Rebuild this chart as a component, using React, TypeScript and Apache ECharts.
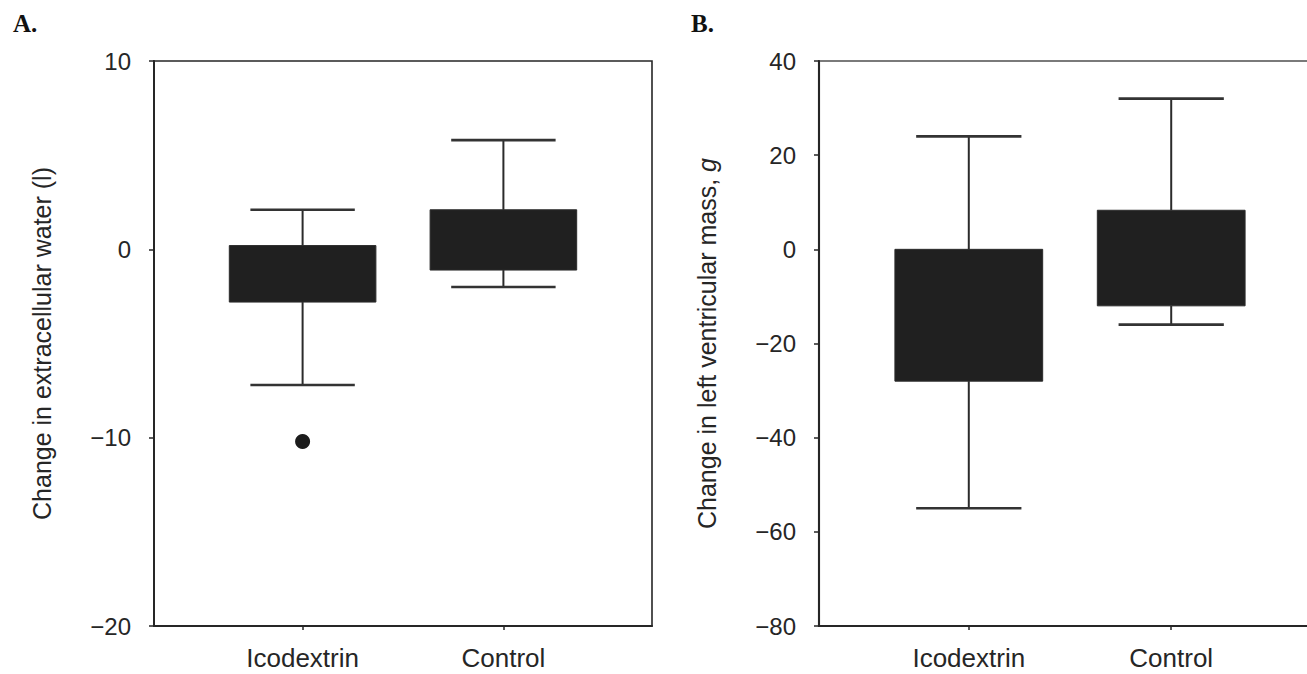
import React, { useEffect, useRef } from "react";
import * as echarts from "echarts";

// Groups shown on both panels
const categories = ["Icodextrin", "Control"];

// Panel A: change in extracellular water (l)
const ecwLow = [-7.2, -2.0];
const ecwQ1 = [-2.8, -1.1];
const ecwQ3 = [0.2, 2.1];
const ecwHigh = [2.1, 5.8];
const ecwOutlierGroup = ["Icodextrin"];
const ecwOutlierValue = [-10.2];
const ecwTicks = [-20, -10, 0, 10];

// Panel B: change in left ventricular mass, g
const lvmLow = [-55, -16];
const lvmQ1 = [-28, -12];
const lvmQ3 = [0, 8.3];
const lvmHigh = [24, 32];
const lvmTicks = [-80, -60, -40, -20, 0, 20, 40];

const BOX_WIDTH = 0.73;
const CAP_WIDTH = 0.52;
const INK = "#262626";
const SANS = "'Liberation Sans', Arial, sans-serif";

const boxData = (lo: number[], q1: number[], q3: number[], hi: number[]) =>
  categories.map((_, i) => [i, lo[i], q1[i], q3[i], hi[i]]);

function renderBox(_params: any, api: any) {
  const i = api.value(0);
  const pLow = api.coord([i, api.value(1)]);
  const pQ1 = api.coord([i, api.value(2)]);
  const pQ3 = api.coord([i, api.value(3)]);
  const pHigh = api.coord([i, api.value(4)]);
  const boxW = api.size([BOX_WIDTH, 0])[0];
  const capW = api.size([CAP_WIDTH, 0])[0];
  const cx = pQ1[0];
  const whisker = { stroke: "#2b2b2b", lineWidth: 2 };
  const cap = { stroke: "#333", lineWidth: 2.6 };
  return {
    type: "group",
    children: [
      { type: "line", shape: { x1: cx, y1: pQ3[1], x2: cx, y2: pHigh[1] }, style: whisker },
      { type: "line", shape: { x1: cx, y1: pQ1[1], x2: cx, y2: pLow[1] }, style: whisker },
      { type: "line", shape: { x1: cx - capW / 2, y1: pHigh[1], x2: cx + capW / 2, y2: pHigh[1] }, style: cap },
      { type: "line", shape: { x1: cx - capW / 2, y1: pLow[1], x2: cx + capW / 2, y2: pLow[1] }, style: cap },
      {
        type: "rect",
        shape: { x: cx - boxW / 2, y: pQ3[1], width: boxW, height: pQ1[1] - pQ3[1] },
        style: { fill: "#202020", stroke: "#2b2b2b", lineWidth: 1 },
      },
    ],
  };
}

const minus = (v: number) => String(v).replace("-", "\u2212");

function xAxis(gridIndex: number) {
  return {
    type: "value",
    gridIndex,
    min: -0.74,
    max: 1.74,
    axisLine: { show: true, onZero: false, lineStyle: { color: INK, width: 2 } },
    axisTick: { show: true, customValues: [0, 1], length: 4, lineStyle: { color: INK, width: 1.5 } },
    axisLabel: {
      customValues: [0, 1],
      formatter: (v: number) => categories[Math.round(v)] ?? "",
      margin: 19,
      fontSize: 26,
      fontFamily: SANS,
      color: INK,
    },
    splitLine: { show: false },
  };
}

function yAxis(gridIndex: number, ticks: number[], name: string, rich?: any) {
  return {
    type: "value",
    gridIndex,
    min: ticks[0],
    max: ticks[ticks.length - 1],
    interval: ticks[1] - ticks[0],
    name,
    nameLocation: "middle",
    nameGap: 100,
    nameTextStyle: { fontSize: 25, fontFamily: SANS, color: INK, rich },
    axisLine: { show: true, onZero: false, lineStyle: { color: INK, width: 2 } },
    axisTick: { show: true, length: 5, lineStyle: { color: INK, width: 1.5 } },
    axisLabel: { margin: 23, fontSize: 24, fontFamily: SANS, color: INK, formatter: minus },
    splitLine: { show: false },
  };
}

export default function App() {
  const ref = useRef<HTMLDivElement>(null);

  useEffect(() => {
    if (!ref.current) return;
    const chart = echarts.init(ref.current, undefined, { renderer: "svg" });
    const richB = {
      a: { fontSize: 25, fontFamily: SANS, color: INK },
      b: { fontSize: 25, fontFamily: SANS, color: INK, fontStyle: "italic" },
    };
    chart.setOption({
      animation: false,
      backgroundColor: "#ffffff",
      grid: [
        { left: 154, top: 61, width: 498, height: 565, show: true, borderColor: INK, borderWidth: 1.6 },
        { left: 819, top: 61, width: 502, height: 565, show: true, borderColor: "#7a7a7a", borderWidth: 2.2 },
      ],
      xAxis: [xAxis(0), xAxis(1)],
      yAxis: [
        yAxis(0, ecwTicks, "Change in extracellular water (l)"),
        yAxis(1, lvmTicks, "{a|Change in left ventricular mass, }{b|g}", richB),
      ],
      graphic: [
        {
          type: "text",
          left: 13,
          top: 11,
          style: { text: "A.", font: "bold 25px 'Liberation Serif', 'Times New Roman', serif", fill: "#111" },
        },
        {
          type: "text",
          left: 691,
          top: 11,
          style: { text: "B.", font: "bold 25px 'Liberation Serif', 'Times New Roman', serif", fill: "#111" },
        },
      ],
      series: [
        {
          type: "custom",
          xAxisIndex: 0,
          yAxisIndex: 0,
          renderItem: renderBox,
          encode: { x: 0, y: [1, 2, 3, 4] },
          data: boxData(ecwLow, ecwQ1, ecwQ3, ecwHigh),
        },
        {
          type: "scatter",
          xAxisIndex: 0,
          yAxisIndex: 0,
          symbol: "circle",
          symbolSize: 15,
          itemStyle: { color: "#1c1c1c", opacity: 1 },
          data: ecwOutlierGroup.map((g, k) => [categories.indexOf(g), ecwOutlierValue[k]]),
        },
        {
          type: "custom",
          xAxisIndex: 1,
          yAxisIndex: 1,
          renderItem: renderBox,
          encode: { x: 0, y: [1, 2, 3, 4] },
          data: boxData(lvmLow, lvmQ1, lvmQ3, lvmHigh),
        },
      ],
    });
    return () => chart.dispose();
  }, []);

  return (
    <div
      style={{
        position: "fixed",
        left: 0,
        top: 0,
        width: 1307,
        height: 674,
        overflow: "hidden",
        background: "#fff",
      }}
    >
      <div ref={ref} style={{ width: 1330, height: 674 }} />
    </div>
  );
}
